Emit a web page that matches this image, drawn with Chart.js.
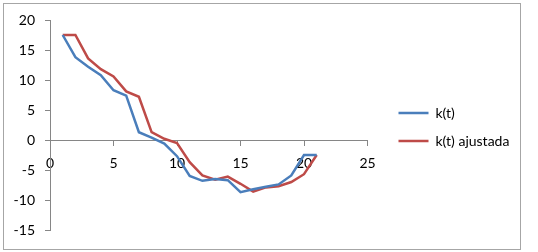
<!DOCTYPE html>
<html>
<head>
<meta charset="utf-8">
<script src="https://cdn.jsdelivr.net/npm/chart.js@4.4.0/dist/chart.umd.min.js"></script>
<style>
  html, body { margin: 0; padding: 0; background: #fff; }
  #wrap { position: relative; width: 538px; height: 252px; }
  #frame { position: absolute; left: 3px; top: 3px; width: 516px; height: 245px; border: 1px solid #a6a6a6; }
  canvas { position: absolute; left: 0; top: 0; }
</style>
</head>
<body>
<div id="wrap">
  <div id="frame"></div>
  <canvas id="chart" width="538" height="252"></canvas>
</div>
<script>
// t values and the two series
const tValues = [1, 2, 3, 4, 5, 6, 7, 8, 9, 10, 11, 12, 13, 14, 15, 16, 17, 18, 19, 20, 21];
const kValues = [17.5, 13.8, 12.2, 10.8, 8.3, 7.4, 1.3, 0.4, -0.6, -2.7, -6.0, -6.8, -6.5, -6.7, -8.7, -8.2, -7.8, -7.4, -5.9, -2.5, -2.5];
const kAjustada = [17.5, 17.5, 13.6, 11.8, 10.6, 8.1, 7.2, 1.3, 0.2, -0.5, -3.7, -5.9, -6.6, -6.1, -7.3, -8.6, -7.9, -7.7, -7.0, -5.7, -2.5];
const seriesNames = ["k(t)", "k(t) ajustada"];
const xTicks = [0, 5, 10, 15, 20, 25];
const yTicks = [-15, -10, -5, 0, 5, 10, 15, 20];

const AXIS_GRAY = "#868686";
const tickFont = { family: "Lato", size: 14 };

const toPoints = (ys) => tValues.map((t, i) => ({ x: t, y: ys[i] }));

// moves the legend a bit away from the plot, like Excel does,
// and lets it run to the canvas edge so the text isn't clipped
const legendShift = {
  id: "legendShift",
  afterLayout(chart) {
    const lg = chart.legend;
    lg.left = chart.chartArea.right + 17;
    lg.right = chart.width;
    lg.width = lg.right - lg.left;
    lg.top += 2;
    lg.bottom += 2;
  }
};

new Chart(document.getElementById("chart").getContext("2d"), {
  type: "line",
  data: {
    datasets: [
      {
        label: seriesNames[0],
        data: toPoints(kValues),
        borderColor: "#4A7EBB",
        backgroundColor: "#4A7EBB",
        borderWidth: 2.5,
        pointRadius: 0,
        tension: 0
      },
      {
        label: seriesNames[1],
        data: toPoints(kAjustada),
        borderColor: "#BE4B48",
        backgroundColor: "#BE4B48",
        borderWidth: 2.5,
        pointRadius: 0,
        tension: 0
      }
    ]
  },
  options: {
    responsive: false,
    animation: false,
    layout: { padding: { left: 0, top: 20, right: 48, bottom: 22 } },
    plugins: {
      tooltip: { enabled: false },
      legend: {
        position: "right",
        labels: {
          usePointStyle: true,
          pointStyle: "line",
          pointStyleWidth: 30,
          padding: 14,
          color: "#000",
          font: tickFont
        }
      }
    },
    scales: {
      x: {
        type: "linear",
        position: { y: 0 },
        min: xTicks[0],
        max: xTicks[xTicks.length - 1],
        afterBuildTicks: (s) => { s.ticks = xTicks.map(v => ({ value: v })); },
        ticks: { color: "#000", font: tickFont, padding: 10 },
        grid: { drawOnChartArea: false, drawTicks: true, tickLength: 5, color: AXIS_GRAY },
        border: { color: AXIS_GRAY }
      },
      y: {
        min: yTicks[0],
        max: yTicks[yTicks.length - 1],
        afterFit: (s) => { s.width = 50; },
        afterBuildTicks: (s) => { s.ticks = yTicks.map(v => ({ value: v })); },
        ticks: { color: "#000", font: tickFont, padding: 10 },
        grid: { drawOnChartArea: false, drawTicks: true, tickLength: 5, color: AXIS_GRAY },
        border: { color: AXIS_GRAY }
      }
    }
  },
  plugins: [legendShift]
});
</script>
</body>
</html>
